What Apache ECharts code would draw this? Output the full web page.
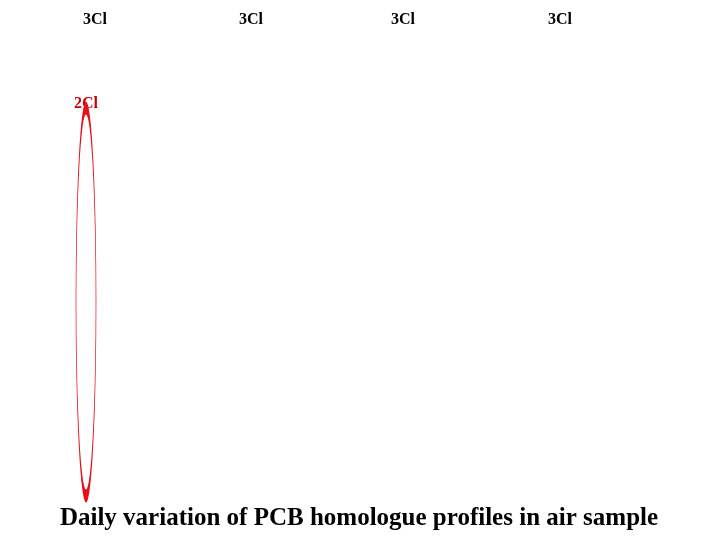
<!DOCTYPE html>
<html><head><meta charset="utf-8">
<script src="https://cdn.jsdelivr.net/npm/echarts@6/dist/echarts.min.js"></script>
<style>html,body{margin:0;padding:0;background:#fff}#c{width:720px;height:540px}</style>
</head><body><div id="c"></div>
<script>
const topLabels = ['3Cl','3Cl','3Cl','3Cl'];
const sideLabel = '2Cl';
const titleText = 'Daily variation of PCB homologue profiles in air sample';
const topX = [95, 251, 403, 560];
const topY = [20, 20, 20, 20];

const chart = echarts.init(document.getElementById('c'));
const font = '"Liberation Serif","DejaVu Serif",serif';
const g = topLabels.map((t,i)=>({type:'text',x:topX[i],y:topY[i],
  style:{text:t,font:'bold 16px '+font,fill:'#000',textAlign:'center',textVerticalAlign:'middle'}}));
g.push({type:'text',x:86,y:104,style:{text:sideLabel,font:'bold 16px '+font,fill:'#cc0000',textAlign:'center',textVerticalAlign:'middle'}});
g.push({type:'circle',x:86,y:302,scaleX:10,scaleY:194,shape:{cx:0,cy:0,r:1},
  style:{fill:'none',stroke:'#e8101a',lineWidth:3,strokeNoScale:true}});
g.push({type:'text',x:359,y:519,style:{text:titleText,font:'bold 25px '+font,fill:'#000',textAlign:'center',textVerticalAlign:'middle'}});
chart.setOption({backgroundColor:'#fff',graphic:g});
</script></body></html>
